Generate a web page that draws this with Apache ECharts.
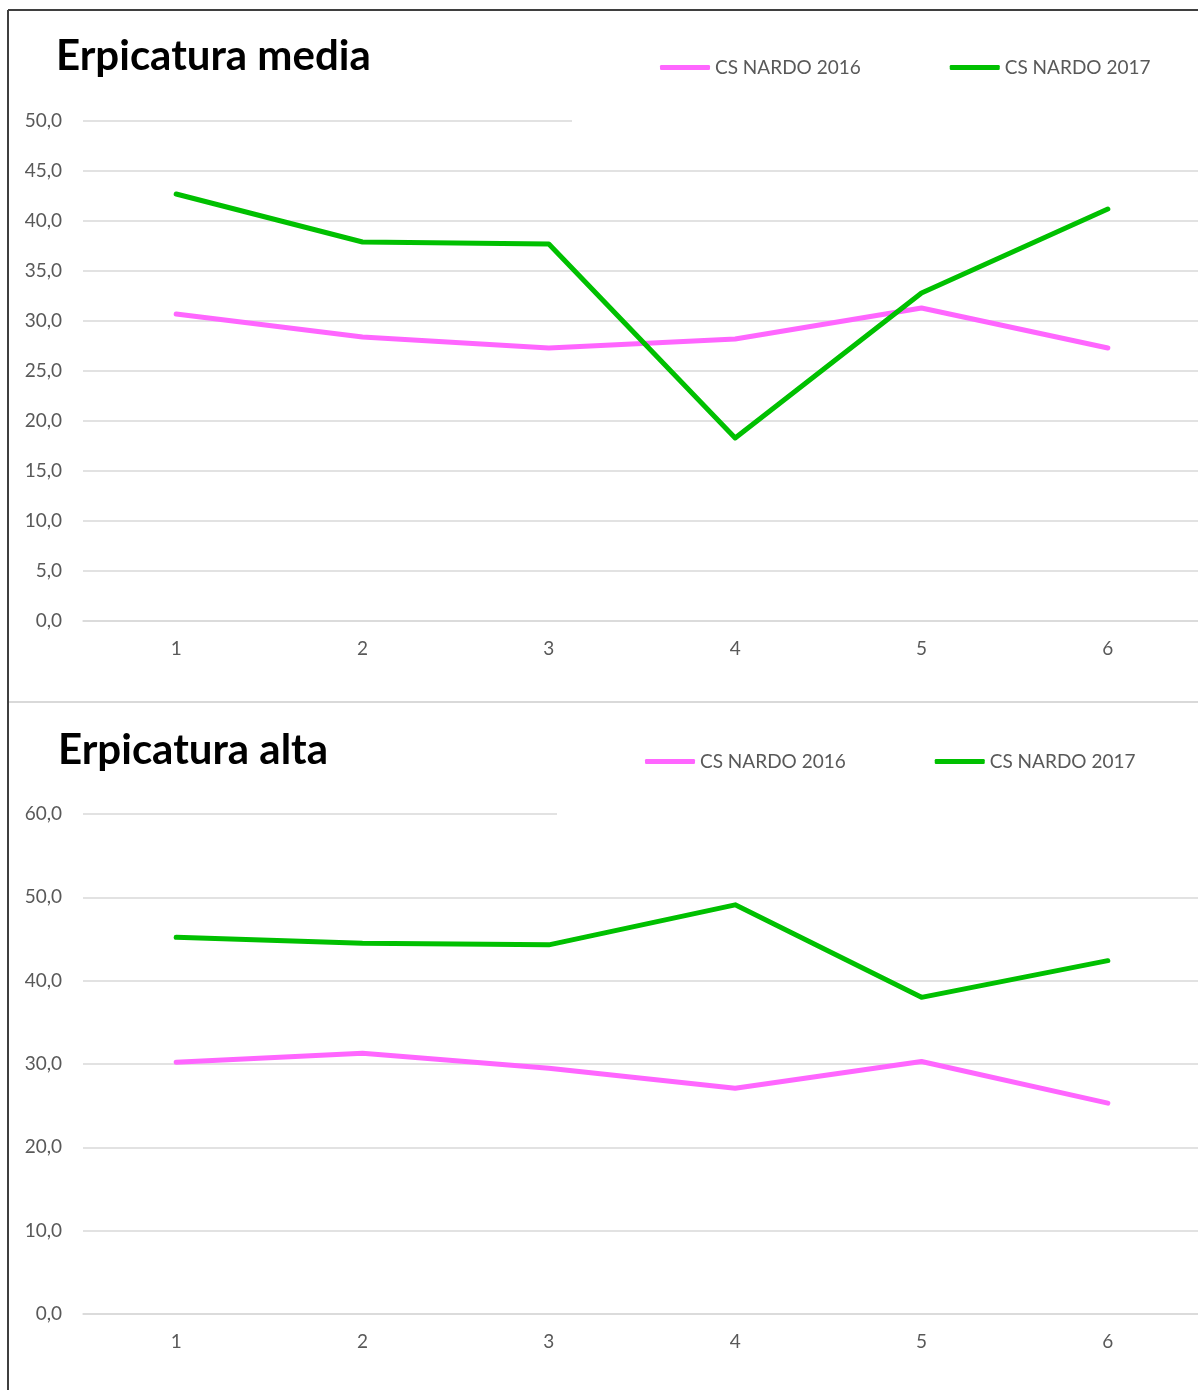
<!DOCTYPE html>
<html>
<head>
<meta charset="utf-8">
<title>Erpicatura</title>
<script src="https://cdn.jsdelivr.net/npm/echarts@6/dist/echarts.min.js"></script>
<style>
  html, body { margin: 0; padding: 0; background: #fff; overflow: hidden; }
  /* canvas runs a little past the right edge of the window, so the plot is cut there */
  #chart { width: 1210px; height: 1390px; }
</style>
</head>
<body>
<div id="chart"></div>
<script>
// Categories and series values
const categories = ['1', '2', '3', '4', '5', '6'];
const seriesNames = ['CS NARDO 2016', 'CS NARDO 2017'];
const media2016 = [30.7, 28.4, 27.3, 28.2, 31.3, 27.3];
const media2017 = [42.7, 37.9, 37.7, 18.3, 32.8, 41.2];
const alta2016 = [30.2, 31.3, 29.5, 27.1, 30.3, 25.3];
const alta2017 = [45.2, 44.5, 44.3, 49.1, 38.0, 42.4];
const titles = ['Erpicatura media', 'Erpicatura alta'];

const PINK = '#FF66FF';
const GREEN = '#00C000';
const GRID_COLOR = '#d9d9d9';
const LABEL_COLOR = '#595959';
const FONT = 'Lato, "Open Sans", sans-serif';

const chart = echarts.init(document.getElementById('chart'), null, { renderer: 'canvas' });

const fmt = v => v.toFixed(1).replace('.', ',');

function xAxisFor(gridIndex) {
  return {
    type: 'category',
    gridIndex,
    data: categories,
    boundaryGap: true,
    axisTick: { show: false },
    axisLine: { lineStyle: { color: GRID_COLOR, width: 1.5 } },
    axisLabel: { color: LABEL_COLOR, fontSize: 19, fontFamily: FONT, margin: 18 }
  };
}
function yAxisFor(gridIndex, max, interval) {
  return {
    type: 'value',
    gridIndex,
    min: 0, max, interval,
    axisLine: { show: false },
    axisTick: { show: false },
    splitLine: { lineStyle: { color: GRID_COLOR, width: 1.5 } },
    axisLabel: { color: LABEL_COLOR, fontSize: 19, fontFamily: FONT, margin: 21, formatter: fmt }
  };
}
function lineSeries(name, data, color, idx) {
  return {
    type: 'line',
    name,
    data,
    xAxisIndex: idx,
    yAxisIndex: idx,
    color,
    showSymbol: false,
    symbol: 'none',
    lineStyle: { color, width: 5, cap: 'round', join: 'round' },
    emphasis: { disabled: true },
    z: 3
  };
}
// legend box is white so it masks the top gridline behind it
function legendFor(left, top) {
  return {
    left, top,
    width: 540,
    orient: 'horizontal',
    data: seriesNames,
    icon: 'roundRect',
    itemWidth: 50,
    itemHeight: 5,
    itemGap: 89,
    backgroundColor: '#fff',
    padding: [20, 80, 50, 88],
    textStyle: { color: LABEL_COLOR, fontSize: 19, fontFamily: FONT },
    selectedMode: false
  };
}

chart.setOption({
  animation: false,
  backgroundColor: '#fff',
  title: [
    { text: titles[0], left: 56, top: 35, padding: 0,
      textStyle: { fontSize: 42, fontWeight: 'bold', color: '#000', fontFamily: FONT } },
    { text: titles[1], left: 58, top: 729, padding: 0,
      textStyle: { fontSize: 42, fontWeight: 'bold', color: '#000', fontFamily: FONT } }
  ],
  legend: [legendFor(572, 38), legendFor(557, 732)],
  grid: [
    { left: 83, top: 121, width: 1118, height: 500, containLabel: false },
    { left: 83, top: 814, width: 1118, height: 500, containLabel: false }
  ],
  xAxis: [xAxisFor(0), xAxisFor(1)],
  yAxis: [yAxisFor(0, 50, 5), yAxisFor(1, 60, 10)],
  series: [
    lineSeries(seriesNames[0], media2016, PINK, 0),
    lineSeries(seriesNames[1], media2017, GREEN, 0),
    lineSeries(seriesNames[0], alta2016, PINK, 1),
    lineSeries(seriesNames[1], alta2017, GREEN, 1)
  ],
  graphic: [
    // outer frame: top and left edges, plus the divider between the two panels
    { type: 'line', shape: { x1: 8, y1: 10, x2: 1210, y2: 10 },
      style: { stroke: '#3f3f3f', lineWidth: 2 }, z: 10 },
    { type: 'line', shape: { x1: 8, y1: 10, x2: 8, y2: 1390 },
      style: { stroke: '#3f3f3f', lineWidth: 2 }, z: 10 },
    { type: 'line', shape: { x1: 9, y1: 702, x2: 1210, y2: 702 },
      style: { stroke: GRID_COLOR, lineWidth: 2 }, z: 10 }
  ]
});
</script>
</body>
</html>
